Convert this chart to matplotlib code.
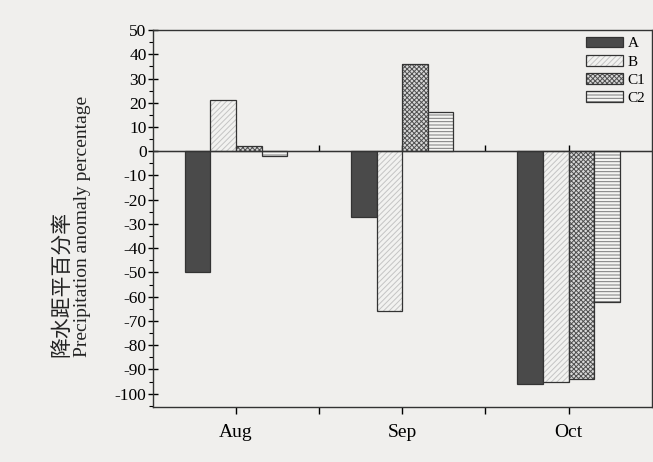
import matplotlib
matplotlib.use("Agg")
import matplotlib.pyplot as plt
from matplotlib.legend_handler import HandlerTuple
import numpy as np

months = ["Aug", "Sep", "Oct"]
series_names = ["A", "B", "C1", "C2"]
A = [-50, -27, -96]
B = [21, -66, -95]
C1 = [2, 36, -94]
C2 = [-2, 16, -62]
values = [A, B, C1, C2]
yticks = list(range(-100, 51, 10))

plt.rcParams['font.family'] = ['Liberation Serif', 'Noto Sans CJK SC']
plt.rcParams['hatch.linewidth'] = 0.7

bg = '#f0efed'
fig = plt.figure(figsize=(6.53, 4.62), dpi=100, facecolor=bg)
ax = fig.add_axes([0.234, 0.119, 0.764, 0.816])
ax.set_facecolor(bg)

styles = [
    dict(facecolor='#4a4a4a', hatch=None, hc='#4a4a4a'),
    dict(facecolor='#f2f2f0', hatch='//////', hc='#c4c4c4'),
    dict(facecolor='#d8d8d8', hatch='xxxxxxx', hc='#505050'),
    dict(facecolor='#f4f4f2', hatch='-----', hc='#7a7a7a'),
]
x = np.arange(1, len(months) + 1)
w = 0.154
handles = []
for i, (name, vals) in enumerate(zip(series_names, values)):
    off = (i - 1.5) * w
    st = styles[i]
    b1 = ax.bar(x + off, vals, width=w, facecolor=st['facecolor'],
                hatch=st['hatch'], edgecolor=st['hc'], linewidth=0)
    b2 = ax.bar(x + off, vals, width=w, fill=False, edgecolor='#333333',
                linewidth=0.9)
    handles.append((b1, b2))

ymin, ymax = -105.5, 50
ax.set_xlim(0.5, 3.5)
ax.set_ylim(ymin, ymax)
ax.axhline(0, color='#333333', linewidth=1.0)

ax.set_xticks(x)
ax.set_xticklabels(months, fontsize=14)
ax.set_xticks([1.5, 2.5], minor=True)
ax.set_yticks(yticks)
ax.set_yticklabels([str(t) for t in yticks], fontsize=12.5)
ax.set_yticks(np.arange(-105, 51, 5), minor=True)
ax.tick_params(axis='y', which='major', direction='inout', length=7, width=1, pad=1)
ax.tick_params(axis='y', which='minor', direction='out', length=3, width=0.8)
ax.tick_params(axis='x', which='both', direction='out', length=5, width=1, pad=7)

# ticks along the zero line
sec = ax.secondary_xaxis((0 - ymin) / (ymax - ymin))
sec.set_xticks([1, 1.5, 2, 2.5, 3])
sec.set_xticklabels([])
sec.tick_params(direction='out', length=4, width=1)
sec.spines['bottom'].set_visible(False)

for s in ax.spines.values():
    s.set_color('#333333')
    s.set_linewidth(1.0)

fig.text(0.095, 0.227, "降水距平百分率", rotation=90, fontsize=15,
         ha='center', va='bottom', family=['Noto Sans CJK SC'], color='#222222')
fig.text(0.126, 0.227, "Precipitation anomaly percentage", rotation=90,
         fontsize=14, ha='center', va='bottom', color='#222222')

ax.legend(handles, series_names, loc='upper right', frameon=False,
          bbox_to_anchor=(1.012, 1.015),
          fontsize=11, handlelength=2.4, handleheight=0.7, labelspacing=0.3,
          handletextpad=0.3, borderaxespad=0.4,
          handler_map={tuple: HandlerTuple(ndivide=1, pad=0)})

fig.savefig("out.png", dpi=100, facecolor=fig.get_facecolor())
